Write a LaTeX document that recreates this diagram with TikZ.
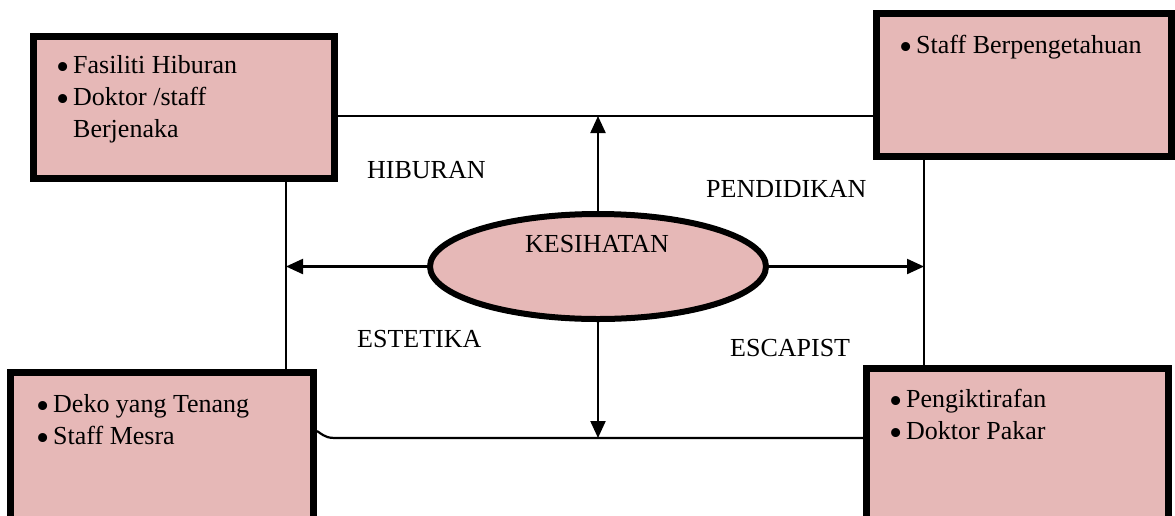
\documentclass[tikz,border=0pt]{standalone}
\usepackage{fontspec}
\setmainfont{Liberation Serif}
\usetikzlibrary{arrows.meta,shapes.geometric}
\definecolor{boxpink}{HTML}{E6B8B7}
% bullet mark of the box lists, enlarged and lowered a little
\newcommand\bul{\makebox[17pt][l]{\smash{\raisebox{-6pt}{\scalebox{1.45}{\textbullet}}}}}

\begin{document}
\begin{tikzpicture}[x=1pt,y=-1pt,
  font=\fontsize{26}{32}\selectfont,
  infobox/.style={rectangle, draw=black, line width=7pt, fill=boxpink, inner sep=0pt},
  hub/.style={ellipse, draw=black, line width=6pt, fill=boxpink, inner sep=0pt,
              minimum width=336pt, minimum height=105pt},
  conn/.style={line width=2.2pt},
  arr/.style={conn, -{Triangle[length=17pt,width=15pt]}},
  txt/.style={inner sep=0pt, anchor=base west}]
\useasboundingbox (0,0) rectangle (1175,515);
\clip (0,0) rectangle (1175,515);

% boxes and central ellipse
\node[infobox, minimum width=301pt, minimum height=142pt] (tl) at (184,107.5) {};
\node[infobox, minimum width=295pt, minimum height=143pt] (tr) at (1024,85) {};
\node[infobox, minimum width=303pt, minimum height=157.5pt] (bl) at (162,451.25) {};
\node[infobox, minimum width=302pt, minimum height=161.5pt] (br) at (1017.5,449.25) {};
\node[hub] (ell) at (598,266.5) {};

% junction points on the frame lines
\coordinate (tline) at (598,116);
\coordinate (bline) at (598,438);
\coordinate (lv) at (286,266.5);
\coordinate (rv) at (924,266.5);
\coordinate (bstart) at (317,431);
\coordinate (bbend) at (342,438);

% frame lines
\draw[conn] (tl.east |- tline) -- (tr.west |- tline);
\draw[conn] (tl.south -| lv) -- (bl.north -| lv);
\draw[conn] (tr.south -| rv) -- (br.north -| rv);
\draw[conn] (bl.east |- bstart) .. controls (327,438) .. (bbend) -- (br.west |- bline);

% arrows from the ellipse
\draw[arr] (ell.north) -- (tline);
\draw[arr] (ell.south) -- (bline);
\draw[arr] (ell.west) -- (lv);
\draw[arr] (ell.east) -- (rv);

% texts
\node[inner sep=0pt, anchor=base] (kes) at (597,252) {KESIHATAN};
\node[txt] (hib) at (367,178) {HIBURAN};
\node[txt] (pen) at (706,197) {PENDIDIKAN};
\node[txt] (est) at (357,347) {ESTETIKA};
\node[txt] (esc) at (730,356) {ESCAPIST};

\node[txt] (tltext) at (56,73) {\begin{tabular}[t]{@{}l@{}l@{}}
  \bul & Fasiliti Hiburan\\
  \bul & Doktor /staff\\
       & Berjenaka
\end{tabular}};
\node[txt] (trtext) at (899,53) {\begin{tabular}[t]{@{}l@{}l@{}}
  \bul & Staff Berpengetahuan
\end{tabular}};
\node[txt] (bltext) at (36,412) {\begin{tabular}[t]{@{}l@{}l@{}}
  \bul & Deko yang Tenang\\
  \bul & Staff Mesra
\end{tabular}};
\node[txt] (brtext) at (889,407) {\begin{tabular}[t]{@{}l@{}l@{}}
  \bul & Pengiktirafan\\
  \bul & Doktor Pakar
\end{tabular}};
\end{tikzpicture}
\end{document}
